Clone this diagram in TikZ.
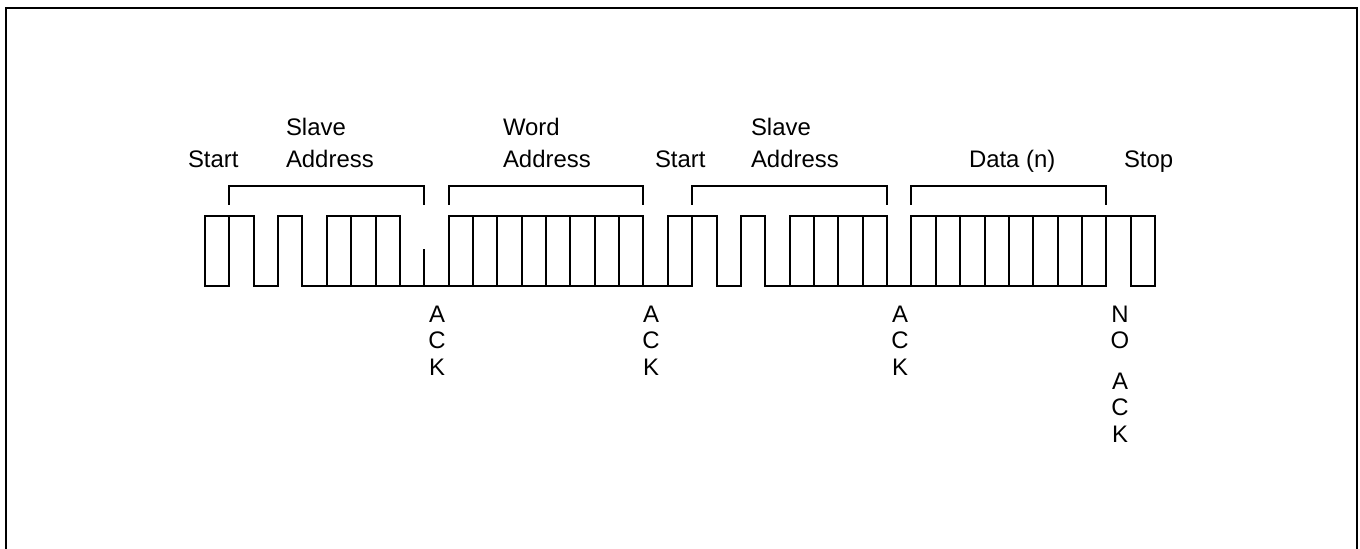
\documentclass[tikz,border=0pt]{standalone}
\usepackage{fontspec}
\setmainfont{Liberation Sans}
\usetikzlibrary{calc}
\newcommand{\bitw}{24.36}
\newcommand{\yhi}{216}
\newcommand{\ylo}{286}

\begin{document}
\begin{tikzpicture}[x=0.5bp,y=-0.5bp,line width=1bp,
  lbl/.style={inner sep=0pt,anchor=base west,font=\fontsize{12}{14}\selectfont},
  ack/.style={inner sep=0pt,anchor=north,align=center,font=\fontsize{12}{13.25}\selectfont}]
\useasboundingbox (0,0) rectangle (1360,549);
% frame
\draw (6,549) -- (6,8) -- (1357,8) -- (1357,549);
% bit boundaries
\foreach \i in {0,...,39} {
  \coordinate (t\i) at ({205+\i*\bitw},\yhi);
  \coordinate (l\i) at ({205+\i*\bitw},\ylo);
}
\coordinate (tick) at ($(l9)+(0,-36)$);
% waveform
\begin{scope}[line cap=rect]
\draw (t0) -- (t2) (t3) -- (t4) (t5) -- (t8) (t10) -- (t18)
      (t19) -- (t21) (t22) -- (t23) (t24) -- (t28) (t29) -- (t39);
\draw (l0) -- (l1) (l2) -- (l3) (l4) -- (l20) (l21) -- (l22)
      (l23) -- (l37) (l38) -- (l39);
\foreach \i in {0,...,8} \draw (t\i) -- (l\i);
\foreach \i in {10,...,39} \draw (t\i) -- (l\i);
\draw (tick) -- (l9);
\end{scope}
% brackets
\foreach \a/\b in {1/9,10/18,20/28,29/37}
  \draw ($(t\a)+(0,-11)$) |- ($(t\b)+(0,-30)$) -- ($(t\b)+(0,-11)$);
% labels
\node[lbl] (start1) at (187,168) {Start};
\node[lbl] (sla1) at (285,136) {Slave};
\node[lbl] (adr1) at (285,168) {Address};
\node[lbl] (word) at (502,136) {Word};
\node[lbl] (adr2) at (502,168) {Address};
\node[lbl] (start2) at (654,168) {Start};
\node[lbl] (sla2) at (750,136) {Slave};
\node[lbl] (adr3) at (750,168) {Address};
\node[lbl] (data) at (968,168) {Data (n)};
\node[lbl] (stop) at (1123,168) {Stop};
\node[ack] (ack1) at (437,305) {A\\C\\K};
\node[ack] (ack2) at (651,305) {A\\C\\K};
\node[ack] (ack3) at (900,305) {A\\C\\K};
\node[ack] (nack) at (1120,305) {N\\O\\[7bp]A\\C\\K};
\end{tikzpicture}
\end{document}
